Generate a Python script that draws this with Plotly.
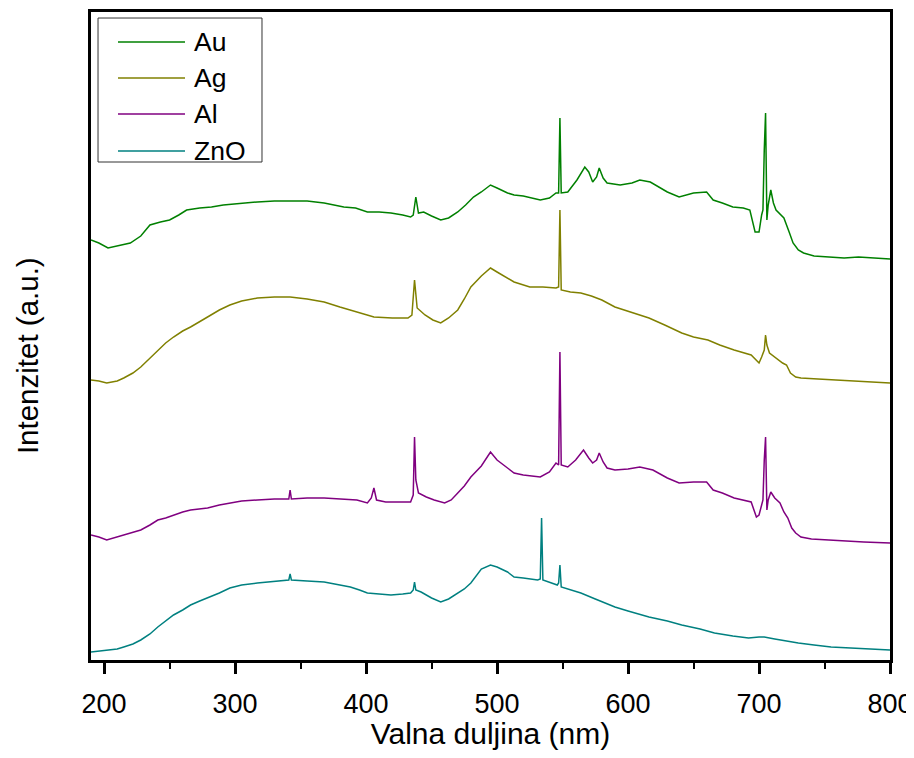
import plotly.graph_objects as go

# Wavelength (nm) and intensity (a.u., offset-stacked)
au_x = [190, 196, 203, 210, 220, 228, 235, 243, 250, 257, 263, 273, 282, 291, 305, 317, 330, 342, 355, 368,
        383, 392, 401, 410, 419, 428, 434, 436, 438, 440, 444, 450, 457, 463, 470, 476, 482, 488, 495, 500,
        508, 513, 520, 533, 540, 545, 547, 548, 549, 554, 561, 567, 570, 573, 576, 578, 581, 584, 594, 603,
        609, 617, 625, 630, 639, 650, 660, 665, 672, 680, 688, 693, 697, 700, 702, 703, 704, 705, 706, 707,
        709, 711, 713, 716, 719, 723, 726, 730, 734, 742, 751, 765, 776, 790, 800]
au_y = [420, 417, 412, 414, 417, 424, 435, 438, 440, 445, 450, 452, 453, 455, 457, 458, 459, 459, 459, 457,
        453, 452, 448, 448, 447, 445, 443, 445, 463, 447, 448, 444, 440, 442, 448, 455, 463, 468, 475, 472,
        467, 465, 464, 460, 462, 467, 467, 542, 467, 468, 480, 493, 488, 478, 483, 492, 482, 477, 475, 477,
        480, 478, 472, 468, 463, 467, 468, 460, 457, 453, 452, 450, 428, 428, 445, 450, 510, 547, 440, 455,
        470, 457, 450, 446, 442, 428, 417, 410, 407, 404, 403, 402, 403, 402, 401]

ag_x = [190, 196, 202, 210, 215, 222, 228, 235, 241, 247, 253, 260, 266, 273, 279, 288, 296, 305, 317, 330,
        342, 355, 368, 380, 393, 400, 406, 420, 432, 435, 437, 439, 445, 451, 457, 463, 470, 475, 480, 488,
        495, 500, 508, 513, 525, 535, 545, 547, 548, 549, 556, 564, 572, 580, 590, 600, 616, 628, 641, 650,
        661, 670, 681, 694, 700, 702, 704, 705, 706, 708, 712, 718, 721, 724, 728, 732, 745, 758, 775, 790,
        800]
ag_y = [280, 279, 277, 279, 282, 287, 293, 302, 310, 317, 323, 329, 333, 338, 343, 350, 355, 359, 362, 363,
        363, 361, 358, 353, 348, 345, 343, 342, 342, 345, 380, 352, 345, 340, 337, 342, 350, 361, 373, 384,
        392, 388, 382, 378, 373, 373, 372, 373, 450, 370, 368, 367, 364, 360, 353, 349, 342, 335, 327, 323,
        320, 315, 310, 305, 297, 303, 310, 325, 315, 307, 303, 297, 295, 287, 283, 282, 281, 280, 279, 278,
        277]

al_x = [190, 196, 202, 210, 215, 222, 228, 235, 241, 247, 253, 260, 266, 273, 279, 288, 296, 305, 317, 330,
        341, 342, 343, 355, 368, 380, 393, 401, 404, 406, 408, 415, 425, 434, 436, 437, 438, 440, 446, 452,
        460, 465, 470, 475, 480, 488, 495, 500, 508, 513, 520, 533, 540, 545, 547, 548, 549, 554, 560, 566,
        570, 573, 576, 578, 581, 584, 590, 600, 609, 619, 630, 639, 650, 660, 665, 672, 681, 688, 694, 698,
        700, 702, 703, 704, 705, 706, 707, 709, 712, 716, 719, 722, 725, 728, 732, 740, 751, 765, 780, 800]
al_y = [125, 123, 120, 123, 125, 127, 130, 135, 140, 142, 145, 148, 150, 151, 152, 155, 157, 159, 160, 161,
        161, 170, 161, 162, 162, 161, 160, 157, 162, 172, 160, 158, 158, 158, 165, 223, 180, 167, 163, 160,
        157, 160, 167, 174, 183, 194, 208, 200, 192, 187, 185, 183, 188, 197, 195, 308, 195, 193, 200, 210,
        202, 197, 200, 207, 198, 192, 190, 191, 193, 190, 182, 177, 178, 178, 170, 167, 162, 160, 158, 143,
        145, 155, 160, 200, 223, 150, 160, 168, 162, 157, 148, 142, 132, 127, 123, 121, 120, 119, 118, 117]

zno_x = [190, 196, 202, 210, 215, 222, 228, 235, 241, 247, 253, 260, 266, 273, 279, 288, 296, 305, 317, 330,
         341, 342, 343, 355, 368, 380, 388, 395, 401, 410, 419, 428, 434, 436, 437, 438, 442, 450, 457, 463,
         470, 475, 480, 488, 495, 500, 508, 513, 520, 531, 533, 534, 535, 540, 546, 547, 548, 549, 556, 564,
         575, 590, 600, 616, 630, 641, 655, 666, 680, 692, 700, 704, 712, 720, 730, 742, 755, 770, 785, 800]
zno_y = [8, 9, 10, 11, 13, 16, 20, 26, 33, 39, 45, 50, 55, 59, 62, 67, 72, 75, 77, 79,
         80, 86, 80, 79, 78, 75, 73, 70, 67, 66, 65, 66, 67, 70, 78, 70, 68, 62, 58, 61,
         67, 71, 77, 91, 95, 93, 88, 83, 82, 80, 81, 142, 80, 78, 75, 77, 95, 73, 70, 67,
         61, 53, 49, 43, 39, 35, 31, 27, 24, 22, 23, 23, 21, 19, 17, 15, 13, 12, 11, 10]

names = ["Au", "Ag", "Al", "ZnO"]
colors = ["#008000", "#808000", "#800080", "#008080"]
xs = [au_x, ag_x, al_x, zno_x]
ys = [au_y, ag_y, al_y, zno_y]

x_ticks = [200, 300, 400, 500, 600, 700, 800]

FONT = "Liberation Sans, Arial, sans-serif"
TICK_FONT = "Liberation Sans Narrow, Arial Narrow, Liberation Sans, Arial, sans-serif"

fig = go.Figure()
for n, c, x, y in zip(names, colors, xs, ys):
    fig.add_trace(go.Scatter(x=x, y=y, mode="lines", name=n, showlegend=False,
                             line=dict(color=c, width=1.5)))

# Legend box drawn in paper coordinates (long line samples as in the reference)
shapes = [dict(type="rect", xref="paper", yref="paper", x0=0.0088, x1=0.2140,
               y0=0.7685, y1=0.9907, line=dict(color="#333333", width=1),
               fillcolor="white", layer="above")]
annotations = []
row_y = [0.9537, 0.8981, 0.8426, 0.7855]
for n, c, ry in zip(names, colors, row_y):
    shapes.append(dict(type="line", xref="paper", yref="paper", x0=0.0338, x1=0.1177,
                       y0=ry, y1=ry, line=dict(color=c, width=1.5), layer="above"))
    annotations.append(dict(text=n, xref="paper", yref="paper", x=0.1264, y=ry,
                            xanchor="left", yanchor="middle", showarrow=False,
                            font=dict(size=26.5, family=FONT, color="black")))

annotations.append(dict(text="Intenzitet (a.u.)", textangle=-90, showarrow=False,
                        xref="paper", yref="paper", x=-0.0801, y=0.469,
                        xanchor="center", yanchor="middle",
                        font=dict(size=29.5, family=FONT)))

fig.update_layout(
    width=906, height=742,
    margin=dict(l=83, r=24, t=4, b=90),
    paper_bgcolor="white", plot_bgcolor="white",
    font=dict(family=FONT, color="black"),
    showlegend=False,
    xaxis=dict(range=[190, 800], tickvals=x_ticks, ticktext=[str(t) for t in x_ticks],
               automargin=False,
               showline=True, linecolor="black", linewidth=2.5, mirror=True,
               ticks="outside", ticklen=11, tickwidth=2.5, tickcolor="black",
               ticklabelstandoff=7,
               minor=dict(dtick=50, tick0=0, ticks="outside", ticklen=6, tickwidth=2, tickcolor="black"),
               showgrid=False, zeroline=False,
               tickfont=dict(size=27, family=TICK_FONT),
               title=dict(text="Valna duljina (nm)", font=dict(size=30, family=FONT), standoff=14)),
    yaxis=dict(range=[0, 648], showticklabels=False, ticks="", automargin=False,
               showline=True, linecolor="black", linewidth=2.5, mirror=True,
               showgrid=False, zeroline=False),
    shapes=shapes,
    annotations=annotations,
)

fig.write_html("out.html")
